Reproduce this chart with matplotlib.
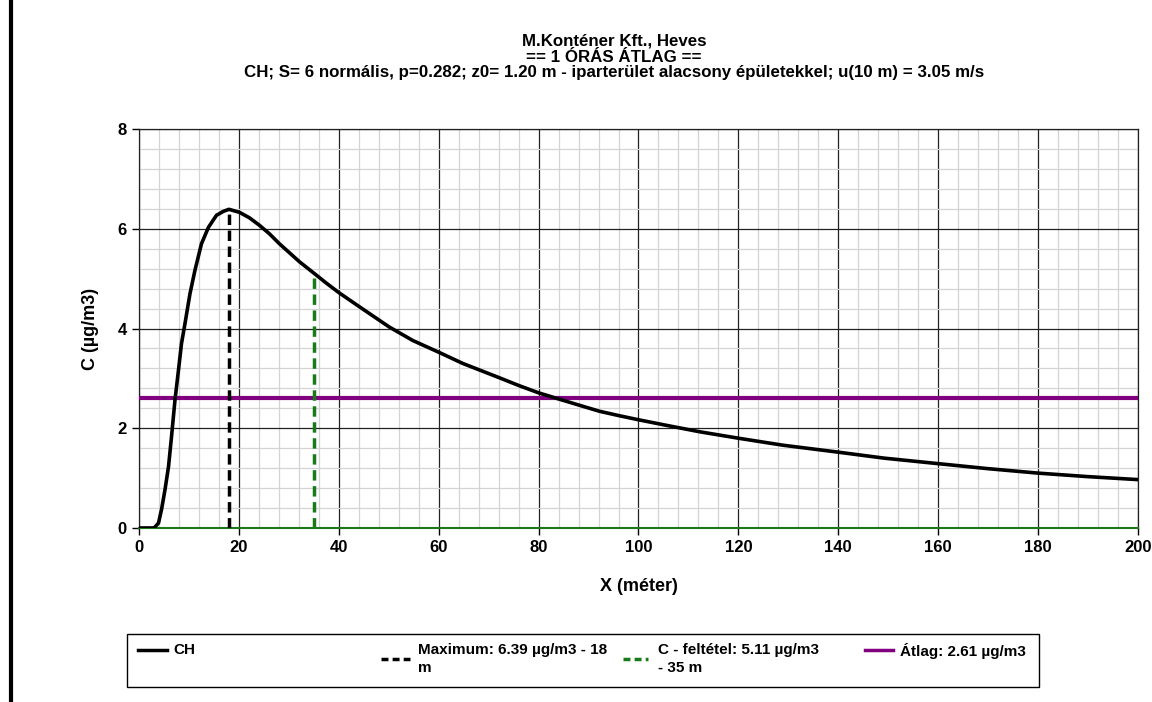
import matplotlib
matplotlib.use("Agg")
import matplotlib.pyplot as plt
from matplotlib.lines import Line2D
from matplotlib.patches import Rectangle
from matplotlib.ticker import MultipleLocator

plt.rcParams['font.family'] = ['Liberation Sans', 'DejaVu Sans']

# concentration curve
x_m = [0, 1, 2, 3, 3.2, 3.9, 4.5, 5.2, 5.9, 6.5, 7.2, 7.9, 8.5, 9.2, 10.2, 11.2, 12.5, 13.9, 15.5,
       16.9, 18, 20.1, 22.1, 24.1, 26.1, 28.1, 30.1, 32.1, 35, 37.5, 40, 44.8, 50.1, 54.8, 60.1,
       64.8, 72.2, 76.2, 80, 83.9, 88.2, 92.2, 96.2, 100, 105.5, 112.2, 120, 128.9, 140, 149.2,
       160, 169.9, 180, 189.9, 200]
conc = [0, 0, 0, 0, 0.02, 0.1, 0.37, 0.77, 1.23, 1.83, 2.57, 3.17, 3.7, 4.1, 4.7, 5.17, 5.7, 6.03, 6.27,
        6.35, 6.39, 6.33, 6.22, 6.07, 5.9, 5.70, 5.52, 5.34, 5.11, 4.91, 4.72, 4.39, 4.03, 3.76, 3.52,
        3.30, 3.01, 2.85, 2.71, 2.59, 2.46, 2.34, 2.25, 2.17, 2.06, 1.93, 1.80, 1.66, 1.52, 1.40,
        1.29, 1.19, 1.10, 1.03, 0.97]

max_x, max_c = 18, 6.39
cond_x, cond_c = 35, 5.11
avg_c = 2.61

title_lines = ["M.Konténer Kft., Heves", "== 1 ÓRÁS ÁTLAG ==",
               "CH; S= 6 normális, p=0.282; z0= 1.20 m - iparterület alacsony épületekkel; u(10 m) = 3.05 m/s"]
legend_labels = ["CH", "Maximum: 6.39 µg/m3 - 18\nm", "C - feltétel: 5.11 µg/m3\n- 35 m", "Átlag: 2.61 µg/m3"]

purple = '#800080'
dgreen = '#1a7a1a'

fig = plt.figure(figsize=(11.52, 7.02), dpi=100)
ax = fig.add_axes([0.1207, 0.2479, 0.8671, 0.5683])

ax.set_xlim(0, 200)
ax.set_ylim(0, 8)
ax.xaxis.set_major_locator(MultipleLocator(20))
ax.xaxis.set_minor_locator(MultipleLocator(4))
ax.yaxis.set_major_locator(MultipleLocator(2))
ax.yaxis.set_minor_locator(MultipleLocator(0.4))
ax.grid(which='minor', color='#d4d4d4', lw=0.9)
ax.grid(which='major', color='#222222', lw=0.9)
ax.set_axisbelow(True)
ax.tick_params(which='minor', length=0)
ax.tick_params(which='major', length=5, width=1, labelsize=12, pad=4)
for lab in ax.get_xticklabels() + ax.get_yticklabels():
    lab.set_fontweight('bold')
for s in ['left', 'right', 'top']:
    ax.spines[s].set_color('#222222')
    ax.spines[s].set_linewidth(0.9)
ax.spines['bottom'].set_color(dgreen)
ax.spines['bottom'].set_linewidth(1.5)

ax.axhline(avg_c, color=purple, lw=3, zorder=3)
ax.plot([max_x, max_x], [0, max_c], color='black', lw=2.5, dashes=(3, 1.6), zorder=4)
ax.plot([cond_x, cond_x], [0, cond_c], color=dgreen, lw=2.5, dashes=(3, 1.6), zorder=4)
ax.plot(x_m, conc, color='black', lw=2.6, zorder=5, solid_capstyle='round', solid_joinstyle='round')

ax.set_xlabel("X (méter)", fontsize=13, fontweight='bold', labelpad=16)
ax.set_ylabel("C (µg/m3)", fontsize=13, fontweight='bold', labelpad=13)

# three title lines, tightly spaced as in the original
for i, t in enumerate(title_lines):
    fig.text(614 / 1152, 1 - (41.5 + 15.5 * i) / 702, t, fontsize=12.2, fontweight='bold',
             ha='center', va='center')

# page edge bar on the left
fig.add_artist(Line2D([0.0095, 0.0095], [0, 1], color='black', lw=3))

# legend box drawn by hand to keep the original column spacing
fig.add_artist(Rectangle((127 / 1152, 1 - 687 / 702), 912 / 1152, 53 / 702,
                         fill=False, edgecolor='black', lw=1))
handles = [
    dict(color='black', lw=2.5, ls='-', x0=138, x1=167, tx=173, hy=650),
    dict(color='black', lw=2.5, ls=(0, (2, 1.2)), x0=381, x1=410, tx=418, hy=659),
    dict(color=dgreen, lw=2.5, ls=(0, (2, 1.2)), x0=623, x1=648, tx=658, hy=659),
    dict(color=purple, lw=2.5, ls='-', x0=865, x1=893, tx=900, hy=650),
]
for h, lab in zip(handles, legend_labels):
    hy = 1 - h['hy'] / 702
    fig.add_artist(Line2D([h['x0'] / 1152, h['x1'] / 1152], [hy, hy], color=h['color'], lw=h['lw'], ls=h['ls']))
    fig.text(h['tx'] / 1152, 1 - 643 / 702, lab, fontsize=11, fontweight='bold', va='top', ha='left',
             linespacing=1.35)

fig.savefig("out.png", dpi=100)
